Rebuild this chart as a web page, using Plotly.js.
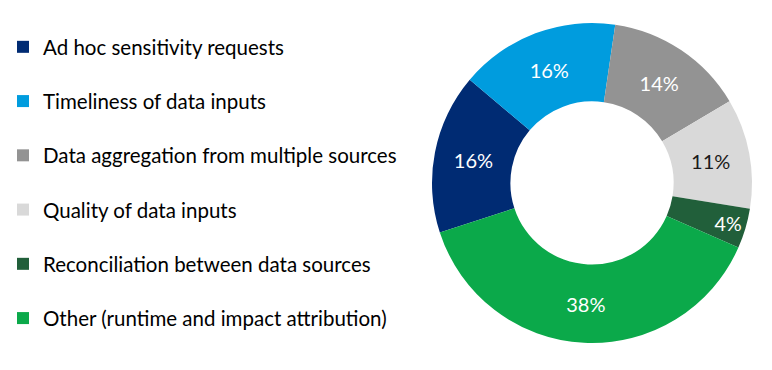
<!DOCTYPE html>
<html>
<head>
<meta charset="utf-8">
<script src="https://cdn.plot.ly/plotly-3.0.1.min.js"></script>
<style>html,body{margin:0;padding:0;background:#fff;}#chart{width:772px;height:370px;}</style>
</head>
<body>
<div id="chart"></div>
<script>
const categories = [
  "Ad hoc sensitivity requests",
  "Timeliness of data inputs",
  "Data aggregation from multiple sources",
  "Quality of data inputs",
  "Reconciliation between data sources",
  "Other (runtime and impact attribution)"
];
const values = [16, 16, 14, 11, 4, 38];
const colors = ["#002B73", "#009CDE", "#939393", "#D9D9D9", "#215F3A", "#0BA94A"];
const textColors = ["#FFFFFF", "#FFFFFF", "#FFFFFF", "#1A1A1A", "#FFFFFF", "#FFFFFF"];

const FONT = "Lato, 'Open Sans', sans-serif";

const pie = {
  type: "pie",
  labels: categories,
  values: values,
  sort: false,
  direction: "clockwise",
  rotation: -108,
  hole: 0.51,
  marker: {colors: colors, line: {width: 0}},
  texttemplate: "%{value}%",
  textposition: "inside",
  insidetextorientation: "horizontal",
  insidetextfont: {family: FONT, size: 20, color: textColors},
  showlegend: false,
  domain: {x: [432/772, 752/772], y: [1 - 343/370, 1 - 23/370]},
  hoverinfo: "label+value"
};

const legendTraces = categories.map((c, i) => ({
  type: "scatter",
  mode: "markers",
  x: [null], y: [null],
  name: c,
  legendgroup: "g" + i,
  marker: {symbol: "square", size: 12, color: colors[i]},
  showlegend: true,
  hoverinfo: "skip"
}));

const layout = {
  width: 772, height: 370,
  margin: {l: 0, r: 0, t: 0, b: 0},
  paper_bgcolor: "#fff", plot_bgcolor: "#fff",
  font: {family: FONT, color: "#000"},
  xaxis: {visible: false, domain: [0, 0.01]},
  yaxis: {visible: false, domain: [0, 0.01]},
  showlegend: true,
  legend: {
    x: 3/772, xanchor: "left", y: 1 - 27/370, yanchor: "top",
    font: {family: FONT, size: 20.5, color: "#000"},
    tracegroupgap: 24.6,
    itemclick: false, itemdoubleclick: false,
    bgcolor: "rgba(0,0,0,0)"
  }
};

Plotly.newPlot("chart", [pie].concat(legendTraces), layout, {staticPlot: true, displayModeBar: false});
</script>
</body>
</html>
